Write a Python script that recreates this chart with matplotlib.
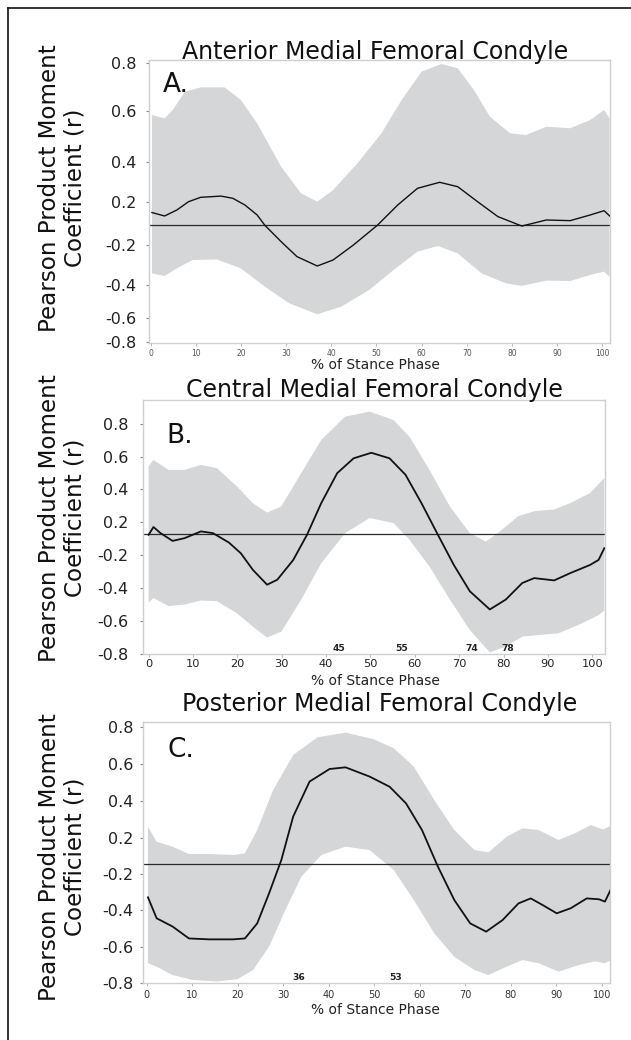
import numpy as np
import matplotlib
matplotlib.use("Agg")
import matplotlib.pyplot as plt
from matplotlib.ticker import FixedLocator, NullLocator
from matplotlib.lines import Line2D

plt.rcParams['font.family'] = ['DejaVu Sans']

# ---------------- data ----------------
tick_vals = [-0.8, -0.6, -0.4, -0.2, 0.2, 0.4, 0.6, 0.8]
tick_labels = ['-0.8', '-0.6', '-0.4', '-0.2', '0.2', '0.4', '0.6', '0.8']
x_ticks = [0, 10, 20, 30, 40, 50, 60, 70, 80, 90, 100]
titles = ["Anterior Medial Femoral Condyle", "Central Medial Femoral Condyle",
          "Posterior Medial Femoral Condyle"]
panel_letters = ["A.", "B.", "C."]
x_label = "% of Stance Phase"
y_label = "Pearson Product Moment\nCoefficient (r)"

# Panel A
a_mean_x = [0.3, 3.1, 5.8, 8.4, 11.1, 15.6, 18.2, 20.9, 23.6, 25.3, 28.9, 32.4, 36.9, 40.4,
            44.9, 50.2, 54.7, 59.1, 64.0, 68.0, 72.4, 76.9, 82.2, 87.6, 92.9, 97.3, 100.4, 101.8]
a_mean_y = [0.10, 0.068, 0.123, 0.20, 0.222, 0.228, 0.217, 0.169, 0.077, -0.018, -0.169, -0.258,
            -0.305, -0.275, -0.20, -0.018, 0.169, 0.267, 0.297, 0.275, 0.20, 0.062, -0.025, 0.031,
            0.025, 0.077, 0.117, 0.062]
a_up_x = [0.3, 3.1, 4.9, 7.6, 11.1, 16.4, 20.0, 23.6, 28.9, 33.3, 36.9, 40.4, 45.8, 51.1, 55.6,
          60.0, 64.4, 68.0, 71.6, 75.1, 79.6, 83.1, 87.6, 92.9, 97.3, 100.4, 101.6]
a_up_y = [0.584, 0.571, 0.604, 0.681, 0.699, 0.699, 0.646, 0.551, 0.375, 0.242, 0.20, 0.258,
          0.392, 0.512, 0.646, 0.765, 0.797, 0.779, 0.688, 0.578, 0.512, 0.505, 0.538, 0.532,
          0.564, 0.604, 0.571]
a_lo_x = [0.3, 3.1, 5.8, 9.3, 14.7, 20.0, 25.3, 30.7, 36.9, 42.2, 48.4, 53.8, 59.1, 63.6, 68.0,
          73.3, 78.7, 82.2, 87.6, 92.9, 97.3, 100.4, 101.6]
a_lo_y = [-0.342, -0.355, -0.317, -0.275, -0.272, -0.317, -0.41, -0.51, -0.576, -0.53, -0.43,
          -0.325, -0.233, -0.205, -0.242, -0.342, -0.392, -0.405, -0.378, -0.38, -0.35, -0.333,
          -0.358]
a_hline = -0.015

# Panel B
b_mean_x = [0, 1.1, 2.7, 5.4, 8.1, 11.8, 14.5, 18.1, 20.8, 23.5, 26.7, 29.0, 32.6, 35.7, 38.9,
            42.5, 46.2, 50.2, 54.3, 57.9, 61.5, 65.2, 68.8, 72.4, 76.9, 80.5, 84.2, 86.9, 91.4,
            95.0, 99.5, 101.4, 102.7]
b_mean_y = [0.045, 0.139, 0.065, -0.029, 0.004, 0.086, 0.065, -0.049, -0.18, -0.29, -0.38, -0.35,
            -0.23, 0.045, 0.314, 0.498, 0.59, 0.624, 0.59, 0.488, 0.314, 0.045, -0.261, -0.42,
            -0.53, -0.47, -0.37, -0.34, -0.354, -0.31, -0.26, -0.23, -0.118]
b_up_x = [0, 1.1, 4.5, 8.1, 11.8, 15.4, 19.9, 23.5, 26.7, 29.9, 34.4, 38.9, 44.3, 49.8, 55.2,
          58.8, 63.3, 67.9, 72.4, 76.0, 78.7, 83.3, 86.9, 91.4, 95.0, 99.5, 102.7]
b_up_y = [0.539, 0.58, 0.518, 0.518, 0.549, 0.529, 0.416, 0.314, 0.257, 0.294, 0.498, 0.702,
          0.845, 0.876, 0.824, 0.722, 0.518, 0.294, 0.065, -0.037, 0.065, 0.235, 0.265, 0.276,
          0.314, 0.376, 0.467]
b_lo_x = [0, 1.1, 4.5, 8.1, 11.8, 15.4, 19.9, 23.5, 26.7, 29.9, 34.4, 38.9, 44.3, 49.8, 55.2,
          58.8, 63.3, 67.9, 72.4, 76.9, 80.5, 84.2, 87.8, 92.3, 96.8, 101.4, 102.7]
b_lo_y = [-0.49, -0.46, -0.51, -0.50, -0.476, -0.48, -0.553, -0.634, -0.70, -0.665, -0.47, -0.25,
          0.065, 0.224, 0.188, -0.016, -0.27, -0.47, -0.655, -0.79, -0.755, -0.695, -0.685,
          -0.675, -0.625, -0.565, -0.535]
b_hline = 0.05
b_marks = ["45", "55", "74", "78"]
b_marks_x = [42.9, 57.1, 72.9, 81.0]

# Panel C
c_mean_x = [0.3, 2.2, 5.7, 9.3, 13.7, 19.0, 21.6, 24.3, 26.9, 29.6, 32.2, 35.8, 40.2, 43.7, 49.0,
            53.4, 57.0, 60.5, 64.0, 67.6, 71.1, 74.6, 78.2, 81.7, 84.4, 87.0, 90.1, 93.2, 96.7,
            99.4, 100.7, 102.0]
c_mean_y = [-0.329, -0.445, -0.49, -0.555, -0.56, -0.56, -0.555, -0.473, -0.307, -0.044, 0.315,
            0.505, 0.573, 0.582, 0.532, 0.477, 0.387, 0.242, -0.116, -0.344, -0.473, -0.518,
            -0.455, -0.363, -0.335, -0.372, -0.418, -0.39, -0.335, -0.34, -0.353, -0.284]
c_up_x = [0.3, 2.2, 5.7, 9.3, 13.7, 19.0, 21.6, 24.3, 27.8, 32.2, 37.5, 43.7, 49.9, 54.3, 58.7,
          63.2, 67.6, 72.0, 75.1, 79.1, 82.6, 86.1, 90.5, 94.1, 97.6, 100.3, 102.0]
c_up_y = [0.26, 0.156, 0.102, 0.022, 0.022, 0.011, 0.029, 0.242, 0.459, 0.649, 0.745, 0.771,
          0.735, 0.686, 0.586, 0.405, 0.242, 0.065, 0.04, 0.205, 0.251, 0.242, 0.175, 0.224,
          0.269, 0.245, 0.264]
c_lo_x = [0.3, 2.2, 5.7, 10.2, 15.5, 19.9, 23.4, 26.9, 30.5, 34.0, 38.4, 43.7, 49.0, 54.3, 58.7,
          63.2, 67.6, 72.0, 75.1, 79.1, 82.6, 86.1, 90.5, 95.0, 98.5, 100.7, 102.0]
c_lo_y = [-0.69, -0.709, -0.755, -0.782, -0.79, -0.778, -0.727, -0.60, -0.40, -0.213, 0.011,
          0.102, 0.065, -0.153, -0.344, -0.527, -0.655, -0.727, -0.755, -0.709, -0.673, -0.69,
          -0.736, -0.70, -0.68, -0.69, -0.673]
c_hline = -0.087
c_marks = ["36", "53"]
c_marks_x = [33.5, 54.8]

# ---------------- layout ----------------
W, H = 631, 1040
fig = plt.figure(figsize=(W / 100, H / 100), dpi=100)

panels = [
    dict(box=(148.6, 610.4, 60.0, 343.0), pix=[341.7, 318.3, 285, 245, 201.7, 161.7, 111, 63.3],
         xlim=(-0.44, 101.8), mean=(a_mean_x, a_mean_y), up=(a_up_x, a_up_y), lo=(a_lo_x, a_lo_y),
         hline=a_hline, lw=1.0, xt_fs=5.5, xt_col='#555555', title_y=58.5, title_x=375,
         xlabel_y=365, ylabel_y=188, letter=(176, 85), marks=None, ytpad=6.5, xtpad=2.5),
    dict(box=(142.6, 605.2, 400.0, 654.0), pix=[654, 621, 588, 555, 522, 489, 456.7, 424],
         xlim=(-1.35, 102.9), mean=(b_mean_x, b_mean_y), up=(b_up_x, b_up_y), lo=(b_lo_x, b_lo_y),
         hline=b_hline, lw=1.3, xt_fs=8.2, xt_col='#222222', title_y=396.5, title_x=374,
         xlabel_y=681, ylabel_y=518, letter=(180, 436), marks=(b_marks, b_marks_x), ytpad=7.5,
         xtpad=1.5),
    dict(box=(142.6, 610.4, 721.7, 983.3), pix=[983.3, 946.7, 910, 874.3, 837.7, 801, 764, 727.3],
         xlim=(-0.88, 101.9), mean=(c_mean_x, c_mean_y), up=(c_up_x, c_up_y), lo=(c_lo_x, c_lo_y),
         hline=c_hline, lw=1.3, xt_fs=7.0, xt_col='#333333', title_y=711.5, title_x=380,
         xlabel_y=1010, ylabel_y=857, letter=(181, 750), marks=(c_marks, c_marks_x), ytpad=4.0,
         xtpad=2.5),
]


def interp_ext(x, xp, fp):
    x = np.asarray(x, dtype=float)
    xp = np.asarray(xp, dtype=float)
    fp = np.asarray(fp, dtype=float)
    y = np.interp(x, xp, fp)
    lo_slope = (fp[1] - fp[0]) / (xp[1] - xp[0])
    hi_slope = (fp[-1] - fp[-2]) / (xp[-1] - xp[-2])
    y = np.where(x < xp[0], fp[0] + (x - xp[0]) * lo_slope, y)
    y = np.where(x > xp[-1], fp[-1] + (x - xp[-1]) * hi_slope, y)
    return y


band_col = '#d5d6d8'
spine_col = '#cfcfcf'

for i, p in enumerate(panels):
    l, r, t, b = p['box']
    ax = fig.add_axes([l / W, 1 - b / H, (r - l) / W, (b - t) / H])
    s = -np.array(p['pix'], dtype=float)
    vals = np.array(tick_vals, dtype=float)
    fwd = (lambda v, s=s, vals=vals: interp_ext(v, vals, s))
    inv = (lambda q, s=s, vals=vals: interp_ext(q, s, vals))
    ax.set_yscale('function', functions=(fwd, inv))

    ux, uy = p['up']
    lx, ly = p['lo']
    ax.fill(list(ux) + list(lx[::-1]), list(uy) + list(ly[::-1]), color=band_col, lw=0, zorder=1)
    ax.axhline(p['hline'], color='#2a2a2a', lw=0.9, zorder=2)
    mx, my = p['mean']
    ax.plot(mx, my, color='#111111', lw=p['lw'], zorder=3, solid_joinstyle='round')

    ax.set_xlim(*p['xlim'])
    ax.set_ylim(float(inv(-b)), float(inv(-t)))

    ax.yaxis.set_major_locator(FixedLocator(tick_vals))
    ax.yaxis.set_minor_locator(NullLocator())
    ax.set_yticklabels(tick_labels, fontsize=11.5, color='#222222')
    ax.set_xticks(x_ticks)
    ax.set_xticklabels([str(v) for v in x_ticks], fontsize=p['xt_fs'], color=p['xt_col'])
    ax.tick_params(axis='y', length=2.5, width=0.8, color='#888888', pad=p['ytpad'])
    ax.tick_params(axis='x', length=2.0, width=0.6, color='#aaaaaa', pad=p['xtpad'])
    for sp in ax.spines.values():
        sp.set_color(spine_col)
        sp.set_linewidth(1.0)

    if p['marks'] is not None:
        labs, xs = p['marks']
        for lab, xv in zip(labs, xs):
            ax.text(xv, float(inv(-(b - 5.5))), lab, fontsize=6.6, fontweight='bold',
                    color='#222222', ha='center', va='center', zorder=4)

    fig.text(p['title_x'] / W, 1 - p['title_y'] / H, titles[i], fontsize=17,
             ha='center', va='baseline', color='#111111')
    fig.text(375 / W, 1 - p['xlabel_y'] / H, x_label, fontsize=10, ha='center',
             va='center', color='#222222')
    fig.text(62 / W, 1 - p['ylabel_y'] / H, y_label, fontsize=16.6, rotation=90,
             ha='center', va='center', linespacing=1.15, color='#111111', multialignment='center')
    fig.text(p['letter'][0] / W, 1 - p['letter'][1] / H, panel_letters[i], fontsize=19,
             ha='center', va='center', color='#111111')

# frame lines of the scanned figure (top and left)
fig.add_artist(Line2D([8 / W, 1.0], [1 - 8 / H, 1 - 8 / H], transform=fig.transFigure,
                      color='#111111', lw=1.2))
fig.add_artist(Line2D([8 / W, 8 / W], [1 - 8 / H, 0.0], transform=fig.transFigure,
                      color='#111111', lw=1.2))

fig.savefig("out.png", dpi=100)
